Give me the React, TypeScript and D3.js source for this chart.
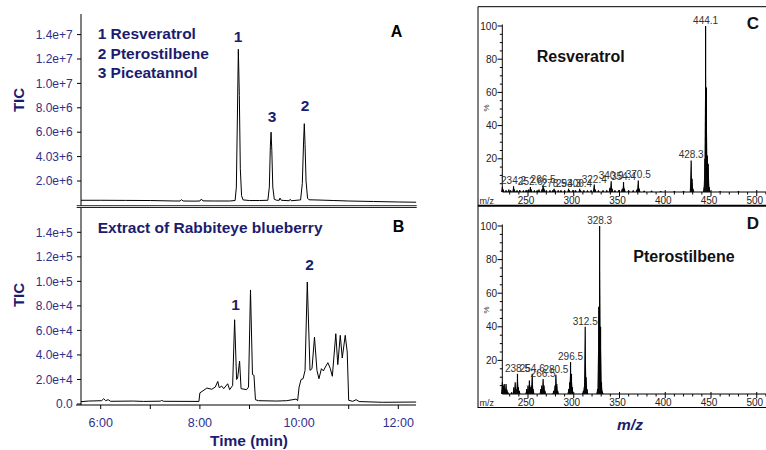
import React from "react";
import * as d3 from "d3";

// ---------- Chromatogram data (time in min, TIC counts) ----------
const chromA: [number, number][] = [
  [5.6, 0.42e6], [6.0, 0.42e6], [6.5, 0.41e6], [7.0, 0.4e6], [7.5, 0.36e6], [7.6, 0.36e6],
  [7.63, 0.47e6], [7.66, 0.36e6], [7.9, 0.35e6], [8.0, 0.36e6], [8.03, 0.52e6], [8.06, 0.37e6],
  [8.3, 0.36e6], [8.6, 0.36e6], [8.71, 0.4e6], [8.735, 1.5e6], [8.755, 7e6], [8.775, 12.8e6],
  [8.795, 9e6], [8.815, 3e6], [8.84, 0.8e6], [8.87, 0.45e6], [9.0, 0.4e6], [9.2, 0.4e6],
  [9.37, 0.42e6], [9.40, 1.5e6], [9.42, 4.8e6], [9.435, 6.0e6], [9.45, 4.5e6], [9.47, 1.5e6],
  [9.50, 0.5e6], [9.55, 0.42e6], [9.6, 0.42e6], [9.615, 0.6e6], [9.64, 0.42e6], [9.8, 0.38e6],
  [9.82, 0.5e6], [9.84, 0.38e6], [10.03, 0.45e6], [10.065, 1.8e6], [10.09, 5.2e6], [10.105, 6.7e6],
  [10.12, 5.0e6], [10.14, 2.0e6], [10.17, 0.6e6], [10.2, 0.46e6], [10.4, 0.44e6], [10.7, 0.4e6],
  [11.0, 0.36e6], [11.5, 0.32e6], [12.0, 0.28e6], [12.36, 0.26e6],
];

const chromB: [number, number][] = [
  [5.6, 1870], [5.75, 2400], [6.02, 2700], [6.06, 4300], [6.1, 2700], [6.15, 3500], [6.2, 2200],
  [6.66, 2400], [6.86, 2100], [7.2, 2300], [7.23, 2900], [7.27, 2200], [7.98, 2100], [8.0, 9100],
  [8.06, 10700], [8.14, 13000], [8.24, 12000], [8.31, 13800], [8.36, 18400], [8.39, 13300],
  [8.44, 14600], [8.48, 12500], [8.56, 16500], [8.6, 11700], [8.66, 15100], [8.7, 68700],
  [8.74, 20000], [8.76, 21000], [8.8, 35000], [8.83, 12500], [8.94, 11700], [8.98, 13800],
  [9.02, 93000], [9.06, 24000], [9.09, 23400], [9.12, 3500], [9.18, 2700], [9.55, 2400],
  [9.75, 2700], [9.94, 4000], [9.97, 2700], [10.0, 13800], [10.04, 20000], [10.08, 20600],
  [10.12, 27400], [10.165, 99500], [10.22, 27400], [10.26, 28800], [10.31, 54500], [10.36, 27400],
  [10.4, 20600], [10.45, 28800], [10.49, 27000], [10.53, 30200], [10.58, 33700], [10.63, 28800],
  [10.67, 22600], [10.74, 57300], [10.78, 32100], [10.83, 56000], [10.87, 37500], [10.93, 56000],
  [10.97, 42400], [11.0, 3000], [11.08, 2200], [11.15, 3500], [11.21, 2000], [11.68, 1400],
  [12.36, 1600],
];

const yTicksA = [2e6, 4e6, 6e6, 8e6, 10e6, 12e6, 14e6];
const yTickLabelsA = ["2.0e+6", "4.03+6", "6.0e+6", "8.0e+6", "1.0e+7", "1.2e+7", "1.4e+7"];
const yTicksB = [0, 2e4, 4e4, 6e4, 8e4, 10e4, 12e4, 14e4];
const yTickLabelsB = ["0.0", "2.0e+4", "4.0e+4", "6.0e+4", "8.0e+4", "1.0e+5", "1.2e+5", "1.4e+5"];
const timeTicks = [6, 7, 8, 9, 10, 11, 12];
const timeLabelTicks = [6, 8, 10, 12];
const timeLabels = ["6:00", "8:00", "10:00", "12:00"];

const legendA = ["1 Resveratrol", "2 Pterostilbene", "3 Piceatannol"];
const peakLabelsA: { text: string; t: number; v: number }[] = [
  { text: "1", t: 8.768, v: 13.42e6 },
  { text: "3", t: 9.454, v: 6.86e6 },
  { text: "2", t: 10.119, v: 7.76e6 },
];
const peakLabelsB: { text: string; t: number; v: number }[] = [
  { text: "1", t: 8.72, v: 77000 },
  { text: "2", t: 10.21, v: 109000 },
];

// ---------- Mass spectra (m/z, relative %) ----------
const specC: [number, number][] = [
  [222.0, 3], [223, 1.5], [226, 1], [229, 1.5], [231, 1], [234.2, 3.5], [235.2, 1.5], [238, 1],
  [241, 1.2], [245, 1], [248, 1.2], [250.5, 1.5], [252.6, 3], [253.6, 1.5], [257, 1], [260, 1],
  [262, 1.5], [265.2, 1.5], [266.5, 4], [267.5, 2], [270, 1], [274, 1], [277, 1], [278.5, 2],
  [279.5, 1], [283, 1], [286, 1], [290, 1], [294.3, 2], [295.3, 1], [299, 1], [302, 1],
  [306.4, 2], [307.4, 1], [311, 1], [315, 1], [319, 1], [322.4, 4.5], [323.4, 1.5], [327, 1],
  [332, 1], [336, 1], [339.5, 2.5], [340.9, 6.5], [341.9, 2], [345, 1], [349, 1], [353, 2],
  [354.4, 6], [355.4, 2], [360, 1], [365, 1], [369, 1.5], [370.5, 7], [371.5, 2], [377, 0.8],
  [385, 0.8], [395, 0.6], [410, 0.6], [420, 0.6], [428.3, 19], [429.3, 8], [430.3, 2],
  [442.6, 3], [443.3, 20], [444.1, 100], [445.0, 63], [446.0, 22], [447.0, 17], [448.0, 3],
  [460, 0.5], [480, 0.5],
];
const labelsC = [234.2, 252.6, 266.5, 278.5, 294.3, 306.4, 322.4, 340.9, 354.4, 370.5, 428.3, 444.1];

const specD: [number, number][] = [
  [222, 7], [223, 5], [224, 6], [225, 3], [226, 6], [227, 2.5], [228, 1], [232, 1],
  [234.5, 4], [236, 7], [237, 3], [238.5, 12], [239.5, 4], [240.5, 2],
  [248.5, 3], [250, 5], [251.5, 8], [252.5, 4], [253.5, 5], [254.6, 12], [255.6, 3],
  [264, 3], [265, 5], [266.5, 9], [267.5, 5], [268.5, 2],
  [278, 2], [279.5, 5], [280.5, 11.5], [281.5, 6], [282.5, 2],
  [294.5, 3], [295.5, 7], [296.5, 19], [297.5, 12], [298.5, 4],
  [310.5, 2], [311.5, 4], [312.5, 40], [313.5, 10], [314.5, 3],
  [326, 3], [327.3, 52], [328.3, 100], [329.3, 40], [330.3, 7], [331.3, 1.5],
];
const labelsD = [238.5, 254.6, 266.5, 280.5, 296.5, 312.5, 328.3];

const mzMajor = [250, 300, 350, 400, 450, 500];
const pctMajor = [20, 40, 60, 80, 100];

const FONT = "'Liberation Sans', Arial, Helvetica, sans-serif";
const NAVY = "#1c1c6e";
const TICKC = "#2f2f8c";

export default function App() {
  // shared time scale
  const x = d3.scaleLinear().domain([6, 12]).range([100.7, 398.3]);
  const yA = d3.scaleLinear().domain([0, 14e6]).range([205.4, 34.6]);
  const yB = d3.scaleLinear().domain([0, 14e4]).range([404, 232.3]);
  const lineA = d3.line<[number, number]>().x((d) => x(d[0])).y((d) => yA(d[1]));
  const lineB = d3.line<[number, number]>().x((d) => x(d[0])).y((d) => yB(d[1]));

  const mz = d3.scaleLinear().domain([350, 500]).range([619.5, 756.75]);
  const yC = d3.scaleLinear().domain([0, 100]).range([192, 26]);
  const yD = d3.scaleLinear().domain([0, 100]).range([394, 226]);
  const mzMinor = d3.range(230, 530, 10).filter((v) => v % 50 !== 0);
  const pctMinor = d3.range(5, 100, 5).filter((v) => v % 20 !== 0);

  const spectrum = (
    data: [number, number][],
    labels: number[],
    y: d3.ScaleLinear<number, number>,
    title: string,
    titleY: number,
    titleX: number,
    letter: string,
    letterY: number,
    pctY: number
  ) => {
    const base = y(0);
    return (
      <g>
        <line x1={502.3} x2={502.3} y1={y(100) - 1.5} y2={base} stroke="#000" strokeWidth={1} />
        <line x1={502.3} x2={780} y1={base} y2={base} stroke="#000" strokeWidth={1} />
        {pctMajor.map((v) => (
          <g key={"pm" + v}>
            <line x1={497.5} x2={502.3} y1={y(v)} y2={y(v)} stroke="#000" />
            <text x={497} y={y(v) + 3.5} fontSize={10} textAnchor="end" fill="#222" fontFamily={FONT}>
              {v}
            </text>
          </g>
        ))}
        {pctMinor.map((v) => (
          <line key={"pn" + v} x1={499.8} x2={502.3} y1={y(v)} y2={y(v)} stroke="#000" />
        ))}
        {mzMajor.map((v) => (
          <g key={"mm" + v}>
            <line x1={mz(v)} x2={mz(v)} y1={base - 2} y2={base + 4} stroke="#000" />
            <text x={mz(v) - 2} y={base + 12} fontSize={10} textAnchor="middle" fill="#222" fontFamily={FONT}>
              {v}
            </text>
          </g>
        ))}
        {mzMinor.map((v) => (
          <line key={"mn" + v} x1={mz(v)} x2={mz(v)} y1={base} y2={base + 2.5} stroke="#000" />
        ))}
        <text x={479.5} y={base + 12} fontSize={9} fill="#222" fontFamily={FONT}>
          m/z
        </text>
        <text
          x={0}
          y={0}
          fontSize={8}
          fill="#333"
          fontFamily={FONT}
          transform={`translate(489,${pctY}) rotate(-90)`}
          textAnchor="middle"
        >
          %
        </text>
        {data.map(([m, v], i) => {
          const cx = mz(m);
          const top = y(v);
          return (
            <g key={"s" + i}>
              <path d={`M${cx - 1.4},${base}L${cx},${top}L${cx + 1.4},${base}Z`} fill="#111" />
              <line x1={cx} x2={cx} y1={base} y2={top} stroke="#000" strokeWidth={1.2} />
            </g>
          );
        })}
        {labels.map((m) => {
          const d = data.find((p) => p[0] === m);
          const v = d ? d[1] : 0;
          return (
            <text
              key={"l" + m}
              x={mz(m)}
              y={y(v) - 2}
              fontSize={10}
              textAnchor="middle"
              fill="#333"
              fontFamily={FONT}
            >
              {m.toFixed(1)}
            </text>
          );
        })}
        <text x={titleX} y={titleY} fontSize={16} fontWeight="bold" fill="#111" fontFamily={FONT}>
          {title}
        </text>
        <text x={753} y={letterY} fontSize={17} fontWeight="bold" fill="#111" textAnchor="middle" fontFamily={FONT}>
          {letter}
        </text>
      </g>
    );
  };

  return (
    <svg
      width={766}
      height={450}
      style={{ position: "absolute", left: 0, top: 0, background: "#fff" }}
      fontFamily={FONT}
    >
      <defs>
        <clipPath id="clipA">
          <rect x={81} y={0} width={336} height={206} />
        </clipPath>
        <clipPath id="clipB">
          <rect x={81} y={207} width={336} height={198} />
        </clipPath>
      </defs>
      <rect x={0} y={0} width={766} height={450} fill="#fff" />

      {/* ---------- Panel A ---------- */}
      <line x1={81} x2={81} y1={14} y2={206} stroke="#000" />
      <line x1={76.7} x2={416.7} y1={205.7} y2={205.7} stroke="#222" strokeWidth={1} />
      <line x1={76.7} x2={416.7} y1={207.5} y2={207.5} stroke="#222" strokeWidth={1} />
      {yTicksA.map((v, i) => (
        <g key={"ya" + v}>
          <line x1={77} x2={81} y1={yA(v)} y2={yA(v)} stroke="#000" />
          <text x={72.7} y={yA(v) + 4.2} fontSize={12} textAnchor="end" fill={TICKC}>
            {yTickLabelsA[i]}
          </text>
        </g>
      ))}
      <path d={lineA(chromA) || ""} fill="none" stroke="#000" strokeWidth={1} clipPath="url(#clipA)" />
      <text transform="translate(23.5,100) rotate(-90)" fontSize={15} fontWeight="bold" fill={NAVY} textAnchor="middle">
        TIC
      </text>
      {legendA.map((s, i) => (
        <text key={s} x={97.7} y={39.3 + i * 19.5} fontSize={15.5} fontWeight="bold" fill={NAVY}>
          {s}
        </text>
      ))}
      {peakLabelsA.map((p) => (
        <text key={"pa" + p.text} x={x(p.t)} y={yA(p.v)} fontSize={15.5} fontWeight="bold" fill={NAVY} textAnchor="middle">
          {p.text}
        </text>
      ))}
      <text x={396.5} y={36.7} fontSize={16} fontWeight="bold" fill="#000" textAnchor="middle">
        A
      </text>

      {/* ---------- Panel B ---------- */}
      <line x1={81} x2={81} y1={208} y2={405} stroke="#000" />
      <line x1={76} x2={416} y1={405} y2={405} stroke="#000" />
      {yTicksB.map((v, i) => (
        <g key={"yb" + v}>
          <line x1={77} x2={81} y1={yB(v)} y2={yB(v)} stroke="#000" />
          <text x={72.7} y={yB(v) + 4.2} fontSize={12} textAnchor="end" fill={TICKC}>
            {yTickLabelsB[i]}
          </text>
        </g>
      ))}
      {timeTicks.map((t) => (
        <line key={"tt" + t} x1={x(t)} x2={x(t)} y1={405} y2={409} stroke="#000" />
      ))}
      {timeLabelTicks.map((t, i) => (
        <text key={"tl" + t} x={x(t)} y={426.7} fontSize={12.5} textAnchor="middle" fill={TICKC}>
          {timeLabels[i]}
        </text>
      ))}
      <path d={lineB(chromB) || ""} fill="none" stroke="#000" strokeWidth={1} clipPath="url(#clipB)" />
      <text transform="translate(23.5,295) rotate(-90)" fontSize={15} fontWeight="bold" fill={NAVY} textAnchor="middle">
        TIC
      </text>
      <text x={97.7} y={233} fontSize={15.5} fontWeight="bold" fill={NAVY}>
        Extract of Rabbiteye blueberry
      </text>
      {peakLabelsB.map((p) => (
        <text key={"pb" + p.text} x={x(p.t)} y={yB(p.v)} fontSize={15.5} fontWeight="bold" fill={NAVY} textAnchor="middle">
          {p.text}
        </text>
      ))}
      <text x={398.5} y={232.3} fontSize={16} fontWeight="bold" fill="#000" textAnchor="middle">
        B
      </text>
      <text x={249} y={446} fontSize={15.5} fontWeight="bold" fill={NAVY} textAnchor="middle">
        Time (min)
      </text>

      {/* ---------- Panels C & D frame ---------- */}
      <line x1={478} x2={478} y1={6.7} y2={408} stroke="#000" />
      <line x1={478} x2={770} y1={6.7} y2={6.7} stroke="#000" />
      <line x1={478} x2={770} y1={205.8} y2={205.8} stroke="#000" strokeWidth={2} />
      <line x1={478} x2={770} y1={407.5} y2={407.5} stroke="#000" />

      {spectrum(specC, labelsC, yC, "Resveratrol", 61.7, 536.7, "C", 29.3, 108)}
      {spectrum(specD, labelsD, yD, "Pterostilbene", 261.7, 633.3, "D", 229.3, 310)}

      <text x={630} y={430} fontSize={15.5} fontWeight="bold" fontStyle="italic" fill={NAVY} textAnchor="middle">
        m/z
      </text>
    </svg>
  );
}
